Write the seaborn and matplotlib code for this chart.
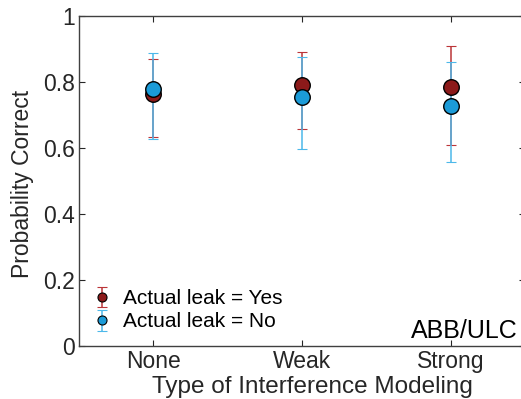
import numpy as np
import pandas as pd
import matplotlib
matplotlib.use("Agg")
import matplotlib.pyplot as plt
import seaborn as sns

categories = ["None", "Weak", "Strong"]
yes_mean = [0.763, 0.792, 0.786]
yes_low = [0.634, 0.658, 0.610]
yes_high = [0.869, 0.890, 0.908]
no_mean = [0.778, 0.755, 0.728]
no_low = [0.628, 0.596, 0.558]
no_high = [0.887, 0.875, 0.861]
series_labels = ["Actual leak = Yes", "Actual leak = No"]
yticks = [0, 0.2, 0.4, 0.6, 0.8, 1]
ytick_labels = ["0", "0.2", "0.4", "0.6", "0.8", "1"]

sns.set_theme(style="ticks")
plt.rcParams["font.family"] = ["Liberation Sans", "DejaVu Sans"]
txt = "#262626"

fig = plt.figure(figsize=(5.21, 3.99), dpi=100)
ax = fig.add_axes([0.1516, 0.1328, 0.857, 0.827])

face_colors = ["#8c1a1a", "#1b9bd8"]
err_colors = ["#bb3538", "#4cb8ea"]

xpos = np.arange(1, len(categories) + 1)
rows = []
for lab, m in zip(series_labels, [yes_mean, no_mean]):
    for c, x, v in zip(categories, xpos, m):
        rows.append({"x": x, "cat": c, "p": v, "series": lab})
df = pd.DataFrame(rows)

for i, (lab, m, lo, hi) in enumerate(zip(series_labels, [yes_mean, no_mean],
                                         [yes_low, no_low], [yes_high, no_high])):
    m = np.array(m); lo = np.array(lo); hi = np.array(hi)
    ax.errorbar(xpos, m, yerr=[m - lo, hi - m], fmt="o", ms=6.5,
                mfc=face_colors[i], mec="black", mew=0.8,
                ecolor=err_colors[i], color=err_colors[i],
                elinewidth=1.1, capsize=3.5, capthick=1.1,
                label=lab, zorder=2 + i)
    sns.scatterplot(data=df[df.series == lab], x="x", y="p", ax=ax,
                    color=face_colors[i], edgecolor="black", linewidth=1.0,
                    s=125, legend=False, zorder=4 + i)

ax.set_xlim(0.5, 3.5)
ax.set_ylim(0, 1)
ax.set_xticks(xpos)
ax.set_xticklabels(categories)
ax.set_yticks(yticks)
ax.set_yticklabels(ytick_labels)
ax.tick_params(direction="in", top=True, right=True, length=4, width=0.8,
               labelsize=16.5, colors=txt, pad=3)
for s in ax.spines.values():
    s.set_color("#404040")
    s.set_linewidth(1.0)
ax.set_xlabel("Type of Interference Modeling", fontsize=17.5, color=txt)
ax.set_ylabel("Probability Correct", fontsize=16.5, color=txt)
ax.xaxis.set_label_coords(0.522, -0.09)
ax.yaxis.set_label_coords(-0.10, 0.49)

leg = ax.legend(loc="lower left", bbox_to_anchor=(-0.005, 0.0), frameon=False,
                fontsize=15, handletextpad=0.5, labelspacing=0.2,
                handlelength=1.0, borderaxespad=0.3)
for t in leg.get_texts():
    t.set_color("black")

ax.text(0.983, 0.024, "ABB/ULC", transform=ax.transAxes, ha="right",
        va="baseline", fontsize=18, color="black")

fig.savefig("out.png", dpi=100)
